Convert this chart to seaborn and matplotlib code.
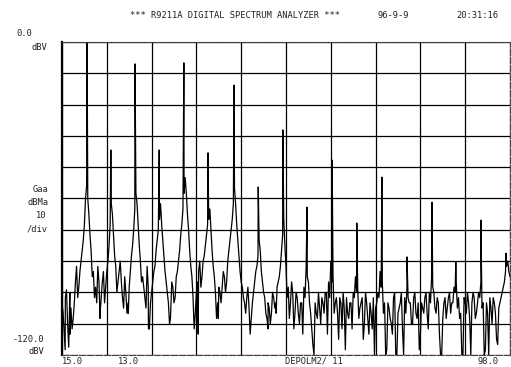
import numpy as np
import pandas as pd
import matplotlib
matplotlib.use("Agg")
import matplotlib.pyplot as plt
import seaborn as sns

# ---- data (x in screen divisions 0..10, level in dBV) ----
peak_div = [0.56, 1.09, 1.63, 2.17, 2.72, 3.26, 3.84, 4.38, 4.93,
            5.47, 6.03, 6.58, 7.14, 7.70, 8.26, 8.79, 9.35, 9.91]
peak_db = [0.0, -41.4, -8.4, -41.4, -8.0, -42.5, -16.5, -55.6, -33.7,
           -63.3, -45.3, -69.4, -51.8, -82.4, -61.4, -84.3, -68.3, -81.0]

# noise floor / skirts sampled every 0.05 division
floor_db = [
    -100, -112, -95, -117, -102, -106, -92, -98, -88, -80, -70,
    -55,
    -66, -80, -88, -94, -86, -104, -92, -100, -88, -78, -62,
    -74, -86, -92, -84, -98, -90, -104, -94, -82, -72, -58,
    -70, -84, -90, -98, -86, -110, -96, -88, -80, -72, -62,
    -76, -88, -96, -108, -92, -100, -90, -84, -74, -64, -52,
    -66, -80, -90, -110, -96, -88, -94, -84, -78, -70, -64,
    -80, -90, -106, -94, -100, -88, -96, -84, -76, -68, -56,
    -70, -82, -92, -98, -104, -94, -112, -100, -92, -86, -76,
    -88, -96, -104, -100, -108, -96, -102, -94, -90, -80, -68,
    -86, -94, -100, -96, -104, -98, -108, -100, -94, -86,
    -92, -104, -116, -100, -106, -102, -98, -104, -96, -92,
    -84, -90, -100, -104, -98, -110, -102, -98, -106, -100,
    -96, -90, -94, -102, -98, -108, -100, -112, -104, -98,
    -102, -96, -88, -92, -100, -118, -102, -108, -98, -120,
    -104, -100, -110, -98, -94, -100, -108, -98, -104, -100,
    -112, -102, -98, -104, -96, -90, -96, -104, -100, -120,
    -106, -98, -102, -96, -100, -94, -92, -98, -104, -120,
    -100, -96, -106, -100, -98, -104, -96, -92, -100, -118,
    -104, -98, -108, -100, -114, -102, -98, -94, -88, -84,
    -90,
]

# extra jagged samples, half-way between the floor samples
jag_db = [
    -104, -98, -108, -96, -110, -100, -86, -94, -84, -76,
    -60, -60, -74, -90, -98, -100, -92, -98, -88, -94,
    -84, -70, -66, -82, -96, -88, -92, -102, -96, -100,
    -88, -78, -64, -62, -78, -92, -94, -102, -94, -100,
    -92, -86, -76, -68, -70, -82, -92, -100, -104, -94,
    -98, -88, -80, -70, -58, -58, -72, -86, -98, -104,
    -92, -84, -90, -82, -74, -68, -72, -86, -96, -100,
    -96, -94, -90, -92, -80, -72, -62, -62, -76, -88,
    -94, -100, -98, -102, -106, -96, -88, -82, -80, -92,
    -98, -106, -102, -104, -98, -100, -92, -86, -74, -78,
    -98, -106, -92, -110, -96, -104, -100, -112, -98, -90,
    -100, -110, -120, -104, -96, -108, -100, -96, -112, -98,
    -92, -104, -98, -114, -100, -96, -118, -104, -100, -110,
    -98, -96, -106, -100, -114, -96, -106, -100, -110, -120,
    -100, -98, -94, -104, -120, -100, -106, -112, -96, -120,
    -102, -96, -120, -104, -98, -100, -108, -96, -106, -118,
    -100, -104, -96, -110, -100, -94, -102, -98, -112, -120,
    -100, -106, -98, -104, -100, -96, -102, -106, -120, -98,
    -104, -100, -120, -96, -106, -100, -98, -102, -120, -100,
    -120, -102, -98, -104, -116, -100, -96, -92, -86, -88,
]

# deep dips in the left half
dip_div = [0.07, 0.18, 0.85, 1.48, 1.93, 2.42, 3.04, 3.49, 4.60, 4.78]
dip_db = [-118, -112, -106, -104, -110, -106, -112, -106, -110, -104]

title_text = "*** R9211A DIGITAL SPECTRUM ANALYZER ***"
date_text = "96-9-9"
time_text = "20:31:16"
x_labels = ["15.0", "13.0", "DEPOLM2/ 11", "98.0"]

# ---- build trace ----
floor_x = np.arange(len(floor_db)) * 0.05
jag_x = 0.025 + np.arange(len(jag_db)) * 0.05
trace = pd.DataFrame({
    "div": np.concatenate([floor_x, jag_x, dip_div, peak_div]),
    "db": np.concatenate([floor_db, jag_db, dip_db, peak_db]),
}).sort_values("div", kind="mergesort")

W, H = 511, 367
sns.set_style("white")
fig = plt.figure(figsize=(W / 100, H / 100), dpi=100)
ax = fig.add_axes([62 / W, 1 - 355 / H, (510 - 62) / W, (355 - 42) / H])

sns.lineplot(data=trace, x="div", y="db", ax=ax, sort=False, estimator=None,
             color="black", lw=0.9)

ax.set_xlim(0, 10)
ax.set_ylim(-120, 0)
ax.set_xticks(np.arange(0, 11, 1))
ax.set_yticks(np.arange(-120, 1, 12))
ax.grid(True, color="black", lw=0.9)
ax.set_xticklabels([])
ax.set_yticklabels([])
ax.tick_params(length=0)
ax.set_xlabel("")
ax.set_ylabel("")
for s in ["top", "bottom", "right"]:
    ax.spines[s].set_color("#444")
    ax.spines[s].set_linewidth(0.8)
    ax.spines[s].set_linestyle((0, (6, 1.5)))
ax.spines["left"].set_color("black")
ax.spines["left"].set_linewidth(1.6)

font = dict(family="DejaVu Sans Mono", color="#222", fontsize=6.3)

def ptext(x, y, s, ha="left", **kw):
    fig.text(x / W, 1 - y / H, s, ha=ha, va="center", **{**font, **kw})

ptext(130, 15, title_text)
ptext(378, 15, date_text)
ptext(456, 15, time_text)

ptext(32, 34, "0.0", ha="right")
ptext(47, 48, "dBV", ha="right")
ptext(48, 190, "Gaa", ha="right")
ptext(48, 203, "dBMa", ha="right")
ptext(46, 216, "10", ha="right")
ptext(48, 229, "/div", ha="right")
ptext(44, 339, "-120.0", ha="right")
ptext(44, 352, "dBV", ha="right")

ptext(62, 361.5, x_labels[0])
ptext(118, 361.5, x_labels[1])
ptext(285, 361.5, x_labels[2])
ptext(478, 361.5, x_labels[3])

fig.savefig("out.png", dpi=100, facecolor="white")
